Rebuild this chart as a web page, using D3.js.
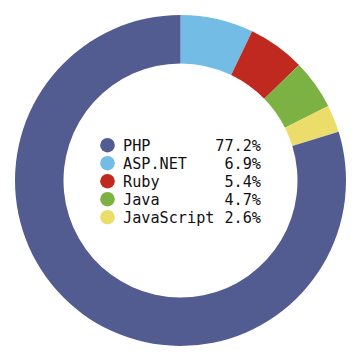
<!DOCTYPE html>
<html><head><meta charset="utf-8">
<script src="https://cdn.jsdelivr.net/npm/d3@7/dist/d3.min.js"></script>
<style>html,body{margin:0;padding:0;background:#fff;}</style>
</head><body>
<svg id="c" width="360" height="353"></svg>
<script>
const categories = ["PHP", "ASP.NET", "Ruby", "Java", "JavaScript"];
const values = [77.2, 6.9, 5.4, 4.7, 2.6];
const labels = ["77.2%", "6.9%", "5.4%", "4.7%", "2.6%"];
const colors = ["#535c91", "#73bce6", "#c0291f", "#7bb243", "#ecdc6a"];

const svg = d3.select("#c");
const cx = 180.5, cy = 180.5, R = 165.5, r = 117;
const g = svg.append("g").attr("transform", `translate(${cx},${cy})`);

// draw order clockwise from top: ASP.NET, Ruby, Java, JavaScript, then PHP
const order = [1, 2, 3, 4, 0];
const pie = d3.pie().sort(null).value(i => values[i]);
const arc = d3.arc().innerRadius(r).outerRadius(R);
g.selectAll("path").data(pie(order)).join("path")
  .attr("d", arc).attr("fill", d => colors[d.data]);

const y = d3.scaleLinear().domain([0, 1]).range([150.5, 168.5]);
const lg = svg.append("g");
const rows = lg.selectAll("g").data(categories.map((c, i) => i)).join("g");
rows.append("circle").attr("cx", 107.5).attr("cy", i => y(i) - 5.3).attr("r", 7.3)
  .attr("fill", i => colors[i]);
rows.append("text").attr("x", 123).attr("y", i => y(i))
  .attr("font-family", "DejaVu Sans Mono").attr("font-size", 15.2).attr("fill", "#111")
  .text(i => categories[i]);
rows.append("text").attr("x", 261).attr("y", i => y(i)).attr("text-anchor", "end")
  .attr("font-family", "DejaVu Sans Mono").attr("font-size", 15.2).attr("fill", "#111")
  .text(i => labels[i]);
</script>
</body></html>
